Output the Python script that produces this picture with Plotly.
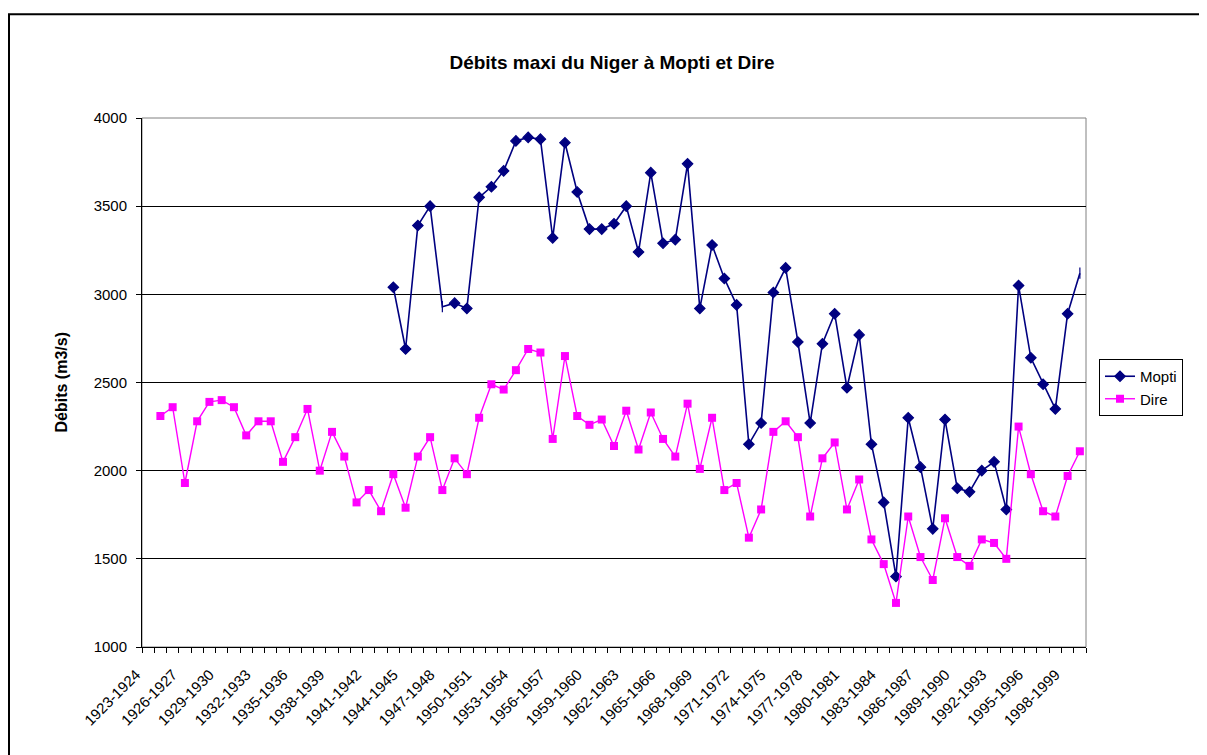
import plotly.graph_objects as go

# ---- data ----
categories = [f"{y}-{y+1}" for y in range(1923, 2000)]  # 77 categories

dire = [None,
        2310, 2360, 1930, 2280, 2390, 2400, 2360, 2200, 2280, 2280,
        2050, 2190, 2350, 2000, 2220, 2080, 1820, 1890, 1770, 1980,
        1790, 2080, 2190, 1890, 2070, 1980, 2300, 2490, 2460, 2570,
        2690, 2670, 2180, 2650, 2310, 2260, 2290, 2140, 2340, 2120,
        2330, 2180, 2080, 2380, 2010, 2300, 1890, 1930, 1620, 1780,
        2220, 2280, 2190, 1740, 2070, 2160, 1780, 1950, 1610, 1470,
        1250, 1740, 1510, 1380, 1730, 1510, 1460, 1610, 1590, 1500,
        2250, 1980, 1770, 1740, 1970, 2110]

mopti = [None] * 20 + [
        3040, 2690, 3390, 3500, 2930, 2950, 2920, 3550, 3610, 3700,
        3870, 3890, 3880, 3320, 3860, 3580, 3370, 3370, 3400, 3500,
        3240, 3690, 3290, 3310, 3740, 2920, 3280, 3090, 2940, 2150,
        2270, 3010, 3150, 2730, 2270, 2720, 2890, 2470, 2770, 2150,
        1820, 1400, 2300, 2020, 1670, 2290, 1900, 1880, 2000, 2050,
        1780, 3050, 2640, 2490, 2350, 2890, 3120]

mopti_bar_points = {24, 76}  # points drawn without the diamond in the source

label_step = 3
y_ticks = [1000, 1500, 2000, 2500, 3000, 3500, 4000]

# ---- figure ----
FONT = "Arial, Liberation Sans, sans-serif"
xpos = list(range(len(categories)))

mopti_symbols = ["line-ns" if i in mopti_bar_points else "diamond" for i in xpos]

fig = go.Figure()
fig.add_trace(go.Scatter(
    x=xpos, y=mopti, name="Mopti", mode="lines+markers",
    line=dict(color="#000080", width=1.6),
    marker=dict(symbol=mopti_symbols, size=8, color="#000080",
                line=dict(color="#000080", width=1.2)),
    connectgaps=False,
))
fig.add_trace(go.Scatter(
    x=xpos, y=dire, name="Dire", mode="lines+markers",
    line=dict(color="#FF00FF", width=1.4),
    marker=dict(symbol="square", size=8, color="#FF00FF"),
))

# page is offset by the 8px body margin; all pixel targets below are page pixels
OFF = 8
W, H = 1199, 747
PL, PR, PT, PB = 142, 1086, 118, 647  # plot area on the page
L, T = PL - OFF, PT - OFF
R = W - (PR - OFF)
B = H - (PB - OFF)
pw, ph = W - L - R, H - T - B

def px2paper_x(px):
    return (px - OFF - L) / pw

def px2paper_y(py):
    return (H - B - (py - OFF)) / ph

fig.update_layout(
    width=W, height=H,
    margin=dict(l=L, r=R, t=T, b=B, autoexpand=False),
    paper_bgcolor="white", plot_bgcolor="white",
    font=dict(family=FONT, size=15, color="black"),
    title=dict(text="<b>Débits maxi du Niger à Mopti et Dire</b>",
               x=px2paper_x(612), xref="paper", y=1 - (62 - OFF) / H, yref="container",
               xanchor="center", yanchor="middle",
               font=dict(family=FONT, size=19, color="black")),
    showlegend=True,
    legend=dict(x=px2paper_x(1099), y=px2paper_y(359), xanchor="left", yanchor="top",
                bordercolor="black", borderwidth=1, bgcolor="white",
                font=dict(family=FONT, size=15, color="black"),
                itemwidth=30, tracegroupgap=0),
    xaxis=dict(
        range=[-0.5, len(categories) - 0.5],
        tickmode="array",
        tickvals=xpos[::label_step],
        ticktext=categories[::label_step],
        tickangle=-45,
        ticks="",
        ticklabelstandoff=12,
        ticklabelshift=-12,
        showgrid=False, zeroline=False,
        showline=True, linecolor="black", linewidth=1,
        tickfont=dict(family=FONT, size=15, color="black"),
        minor=dict(tickmode="array",
                   tickvals=[i - 0.5 for i in range(len(categories) + 1)],
                   ticks="outside", ticklen=5, tickcolor="black", tickwidth=1,
                   showgrid=False),
    ),
    yaxis=dict(
        range=[y_ticks[0], y_ticks[-1]],
        tickmode="array", tickvals=y_ticks,
        ticks="outside", ticklen=5, tickcolor="black",
        ticklabelstandoff=6,
        showgrid=True, gridcolor="black", gridwidth=1,
        zeroline=False,
        showline=True, linecolor="black", linewidth=1,
        tickfont=dict(family=FONT, size=15, color="black"),
    ),
    annotations=[dict(
        text="<b>Débits (m3/s)</b>", textangle=-90,
        x=px2paper_x(61), y=0.5, xref="paper", yref="paper",
        xanchor="center", yanchor="middle", showarrow=False,
        font=dict(family=FONT, size=16, color="black"),
    )],
    shapes=[
        dict(type="rect", xref="paper", yref="paper", x0=0, y0=0, x1=1, y1=1,
             line=dict(color="#808080", width=1), layer="below"),
        dict(type="rect", xref="paper", yref="paper",
             x0=px2paper_x(9), y0=px2paper_y(770), x1=px2paper_x(1220), y1=px2paper_y(14.3),
             line=dict(color="black", width=2)),
    ],
)

fig.write_html("out.html")
